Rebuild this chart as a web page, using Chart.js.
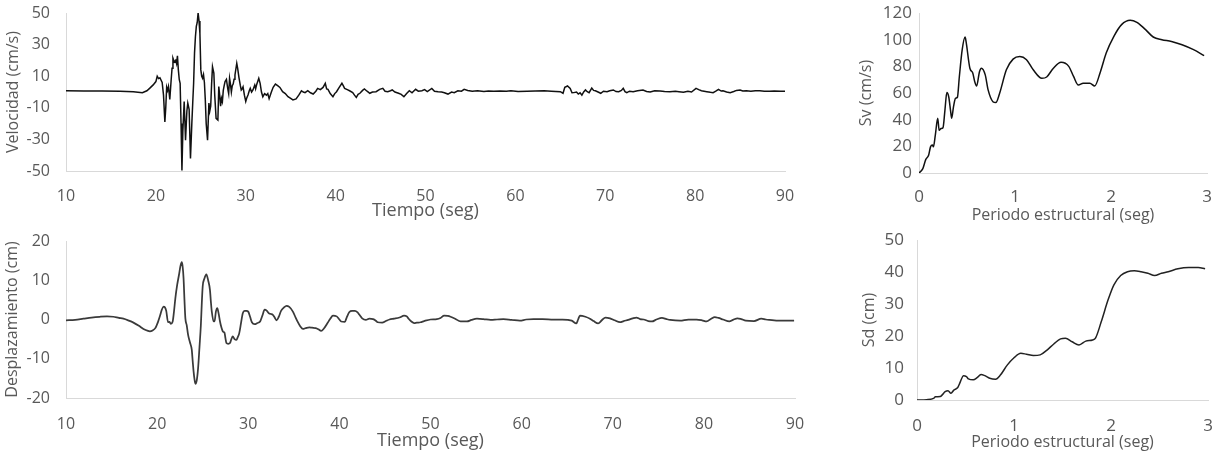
<!DOCTYPE html>
<html><head><meta charset="utf-8">
<script src="https://cdn.jsdelivr.net/npm/chart.js@4.4.1/dist/chart.umd.min.js"></script>
<style>
html,body{margin:0;padding:0;background:#fff;width:1215px;height:452px;overflow:hidden}
.box{position:absolute}
</style></head><body>
<div class="box" style="left:0;top:0;width:800px;height:225px"><canvas id="cVel"></canvas></div>
<div class="box" style="left:0;top:225px;width:810px;height:227px"><canvas id="cDis"></canvas></div>
<div class="box" style="left:850px;top:0;width:365px;height:225px"><canvas id="cSv"></canvas></div>
<div class="box" style="left:850px;top:225px;width:365px;height:227px"><canvas id="cSd"></canvas></div>
<script>
// ---- Velocity time history ----
const velT = [10,12,14,16,17.5,18.5,19.0,19.3,19.7,20.0,20.15,20.3,20.45,20.7,20.85,21.0,21.1,21.2,21.3,21.4,21.55,21.7,21.8,21.9,22.05,22.2,22.3,22.4,22.5,22.6,22.7,22.8,22.9,23.0,23.15,23.3,23.45,23.55,23.7,23.85,24.0,24.1,24.2,24.3,24.4,24.5,24.6,24.7,24.8,24.9,25.0,25.1,25.2,25.3,25.4,25.5,25.6,25.75,25.9,26.0,26.1,26.2,26.3,26.45,26.55,26.7,26.9,27.0,27.1,27.2,27.3,27.4,27.5,27.6,27.7,27.85,28.0,28.1,28.2,28.3,28.4,28.5,28.6,28.7,28.8,29.0,29.1,29.25,29.4,29.5,29.6,29.7,29.85,30.0,30.1,30.25,30.4,30.5,30.65,30.8,31.0,31.1,31.2,31.35,31.45,31.6,31.75,31.9,32.1,32.3,32.45,32.6,32.85,33.05,33.3,33.55,33.8,34.1,34.4,34.7,35.0,35.25,35.6,35.9,36.2,36.4,36.6,36.9,37.2,37.5,37.8,38.0,38.3,38.6,38.85,39.0,39.15,39.4,39.7,39.9,40.1,40.4,40.7,40.85,41.0,41.3,41.55,41.9,42.1,42.3,42.5,42.7,43.0,43.2,43.5,43.8,44.1,44.5,44.9,45.25,45.5,45.8,46.1,46.3,46.6,47.0,47.3,47.6,47.9,48.2,48.5,48.9,49.2,49.6,49.9,50.2,50.7,51.0,51.4,51.8,52.1,52.5,52.9,53.2,53.6,54.0,54.3,54.7,55.2,55.8,56.5,57.0,57.6,58.3,59.0,59.5,60.3,61.3,62.2,63.2,64.0,65.0,65.3,65.5,65.8,66.1,66.3,66.5,66.8,67.0,67.2,67.4,67.6,67.8,68.0,68.2,68.5,68.7,68.9,69.2,69.5,69.8,70.2,70.5,70.9,71.2,71.5,71.8,72.0,72.2,72.4,72.7,73.1,73.6,74.2,74.6,75.0,75.5,76.1,76.6,77.2,77.8,78.2,78.7,79.2,79.6,80.1,80.4,80.7,81.0,81.3,81.7,82.0,82.3,82.6,82.9,83.1,83.5,83.9,84.3,84.6,85.0,85.3,85.7,86.2,86.7,87.2,87.7,88.3,88.8,89.5,90];
const velV = [0.8,0.7,0.6,0.5,0.2,-0.4,0.8,2.3,4.5,6.6,10,8.5,9,6,-2,-18.9,-10,3,1,3.5,-4.7,7.6,15,21.4,19,20,18,22.9,14,8,5.5,-20,-49.6,-25,-6,-30.5,-12,-7,-11,-42,-20,-7,5.5,24.6,35,41.5,44,50,45,37,14,10,8.7,11,6,-5,-20,-30.5,-7,-12,-9,5,16,12,-2,-16.7,-17.8,3.4,-2,-9,-4,-6,1,4,6.6,8,2,-1,8.7,5,0,4,5,8,10.8,18.2,15,9,4,1.3,2,3.3,-2,-6,-4,-1.9,1,2.3,0,1.3,4.4,2,4.4,7,8.7,5.5,0,-3,-1,-2,-1,-4.2,0,3,5,4,2.9,0.2,-1,-3,-4,-5,-4.4,-2,0.8,0,-0.4,0.8,-0.5,-1.3,0.5,2.3,1.5,2.9,5.5,2,1.7,-1,-3,-1,0.2,2.9,5.5,4,2.3,1.5,0.8,-0.4,-2,-3.4,-1.5,-0.8,1,1.9,0.5,-0.8,0,0.2,1.7,2.3,0.5,0.2,0.8,1.3,0,-0.8,-1.5,-3,-1,0.8,-0.5,1.7,0.5,0.8,1.5,0.3,2.3,0.5,0.2,0,-0.5,-1.3,0,-0.4,0.8,0.5,1.7,1,0.5,0.8,0.3,0.6,0.4,0.6,0.5,0.8,0.3,0.4,0.6,0.8,0.5,0.2,-0.8,3,3.8,2.3,-0.5,-0.4,0,-1.3,-0.5,-2,0,1.3,0.2,-0.4,2.5,1,0.8,0,-0.8,0.5,0.2,0.8,1.3,0.3,0.2,1,2.3,0.2,-0.4,0.5,0.2,0.8,1.3,0.3,0,0.8,0.6,0.3,0.2,0.5,0.2,-0.2,0.5,0,2.3,1.5,0.8,0.5,0.2,-0.2,-0.4,0.5,1.7,0.6,0.8,0,-0.4,0.3,1,1.3,0.6,0.8,0.5,0.8,0.8,0.5,0.4,0.6,0.4,0.4];
const velXTicks = [10,20,30,40,50,60,70,80,90];
const velYTicks = [-50,-30,-10,10,30,50];

// ---- Displacement time history ----
const disT = [10,11,11.9,12.8,13.7,14.5,15.2,15.8,16.3,16.9,17.4,18.0,18.5,19.0,19.2,19.5,19.8,20.1,20.3,20.5,20.7,20.85,21.0,21.2,21.35,21.5,21.7,21.85,22.0,22.2,22.4,22.55,22.7,22.8,22.9,23.0,23.1,23.25,23.4,23.6,23.8,23.9,24.0,24.1,24.2,24.35,24.5,24.65,24.8,24.9,25.0,25.2,25.4,25.6,25.8,25.9,26.0,26.2,26.3,26.45,26.6,26.75,26.9,27.05,27.2,27.3,27.4,27.5,27.6,27.8,28.0,28.15,28.3,28.5,28.7,28.85,29.0,29.2,29.4,29.6,29.8,30.0,30.2,30.4,30.7,31.0,31.3,31.55,31.8,32.05,32.3,32.5,32.7,32.9,33.1,33.35,33.6,33.9,34.2,34.5,34.9,35.2,35.4,35.7,36.0,36.3,36.7,37.0,37.4,37.7,38.0,38.3,38.7,39.0,39.3,39.7,40.0,40.2,40.6,40.8,41.1,41.4,41.7,42.0,42.2,42.5,42.9,43.3,43.7,44.0,44.2,44.7,45.1,45.5,46.0,46.6,47.1,47.4,47.6,47.9,48.2,48.5,48.9,49.3,50.0,50.7,51.1,51.5,51.9,52.2,52.7,53.3,54.0,54.5,55.1,55.8,56.6,57.3,58.0,58.9,59.8,60.5,61.3,62.3,63.5,64.5,65.5,66.0,66.2,66.4,67.0,67.5,67.9,68.4,68.8,69.2,69.7,70.2,70.8,71.2,71.7,72.2,72.6,73.0,73.4,73.9,74.3,74.8,75.4,75.9,76.3,77.4,78.3,79.2,79.8,80.3,80.8,81.2,81.6,82.1,82.8,83.2,83.7,84.1,84.6,85.5,86.3,86.8,87.2,88.3,89.0,89.9];
const disD = [-0.2,-0.1,0.2,0.5,0.7,0.8,0.7,0.4,0.2,-0.3,-0.8,-1.6,-2.4,-2.9,-3,-2.8,-2.2,-0.6,0.8,2.4,3.3,3.1,2.2,-0.7,-0.6,-1.1,-0.6,2,5.4,8.8,11.4,13.5,14.6,13.5,10.5,5,0.3,-1.5,-3.9,-5.8,-7.7,-10.5,-13.2,-15.2,-16.4,-15.5,-12.3,-7,-1.4,4,8.4,10.5,11.5,10,7.5,4.5,2,-0.5,-0.5,2,2.9,1.5,-0.5,-2,-3,-3.2,-3.4,-4.8,-6,-6.2,-6,-5,-4.3,-5,-5.2,-4.5,-3.6,-1,1.6,2.2,2.2,2,0.7,-0.7,-1.2,-0.9,-0.5,1,2.5,2.2,1.5,1.4,1.2,0.5,-0.2,0.7,2.2,3,3.5,3.2,2,0.5,-0.5,-1.7,-2.4,-2.2,-2,-2.1,-2.2,-2.5,-2.9,-2.3,-0.9,0.2,1,0.8,0,-0.5,-0.6,0.5,1.9,2.2,2.2,1.8,1.2,0.3,-0.1,0.2,0.1,-0.3,-0.7,-0.8,-0.4,0,0.2,0.5,1,0.8,0.2,-0.5,-0.9,-0.8,-0.7,-0.4,0,0.1,0.4,1,0.9,0.7,0.2,-0.5,-0.5,-0.1,0.2,0.1,-0.1,0,0.1,-0.1,-0.3,0,0.1,0.1,0,0,-0.3,-1,0,1,0.7,0.2,-0.4,-1,-0.2,0.5,0.3,-0.2,-0.7,-0.4,-0.1,0.3,0.5,0.1,0,-0.4,-0.5,0,0.4,0.1,-0.1,-0.3,0,0,-0.2,-0.5,0.2,0.6,0.4,0,-0.5,-0.1,0.3,0.1,-0.3,-0.4,0.2,0,-0.1,-0.3,-0.3,-0.3];
const disXTicks = [10,20,30,40,50,60,70,80,90];
const disYTicks = [-20,-10,0,10,20];

// ---- Velocity spectrum Sv ----
const svT = [0,0.04,0.07,0.1,0.12,0.14,0.15,0.17,0.195,0.21,0.23,0.25,0.27,0.29,0.31,0.33,0.34,0.36,0.38,0.40,0.42,0.45,0.48,0.49,0.53,0.56,0.58,0.60,0.63,0.65,0.69,0.72,0.77,0.80,0.84,0.91,0.98,1.05,1.12,1.19,1.28,1.33,1.40,1.48,1.56,1.61,1.66,1.71,1.78,1.83,1.89,1.95,2.03,2.11,2.2,2.27,2.36,2.44,2.53,2.63,2.74,2.86,2.97];
const svV = [0,3.3,10,13.3,19.6,21,19.6,28.4,41,32,33.4,34,47,60.3,57,46,41,50,56,56.8,72,92.5,102,98.7,78.6,75,68.6,65.3,76,78.6,73.6,62.3,53.5,52.8,59.8,77.4,85.4,87.4,85,77.4,71,72,78.6,83,80,72.4,66,67.3,67.3,65.3,76,90,102.5,111.3,114.6,113,107.5,102,100,98.7,96.2,92.5,88];
const svXTicks = [0,1,2,3];
const svYTicks = [0,20,40,60,80,100,120];

// ---- Displacement spectrum Sd ----
const sdT = [0,0.1,0.17,0.19,0.24,0.26,0.29,0.32,0.35,0.38,0.42,0.44,0.48,0.51,0.53,0.58,0.62,0.66,0.70,0.75,0.81,0.86,0.93,1.0,1.07,1.13,1.20,1.27,1.34,1.41,1.48,1.53,1.60,1.67,1.74,1.81,1.84,1.90,1.97,2.03,2.10,2.17,2.24,2.31,2.38,2.45,2.52,2.59,2.69,2.80,2.90,2.97];
const sdV = [0,0.1,0.5,1,1.1,1.6,2.6,2.9,2.1,3.1,3.9,5.2,7.6,7.3,6.6,6.3,7,8,7.6,6.8,6.5,7.8,10.9,13.2,14.6,14.3,13.9,14.1,15.6,17.5,19.1,19.3,18.2,17.2,18.4,18.75,19.3,24.5,31.3,36,38.9,40.1,40.4,40.1,39.6,38.9,39.6,40.1,41,41.4,41.4,41];
const sdXTicks = [0,1,2,3];
const sdYTicks = [0,10,20,30,40,50];

const FONT = "'Open Sans', 'Liberation Sans', sans-serif";
const TXT = '#595959';
const AXIS = '#d9d9d9';

function panel(id, o) {
  new Chart(document.getElementById(id), {
    type: 'scatter',
    data: { datasets: [{
      data: o.xs.map((x, i) => ({ x: x, y: o.ys[i] })),
      showLine: true, borderColor: o.color, borderWidth: o.width,
      pointRadius: 0, pointHoverRadius: 0, fill: false,
      cubicInterpolationMode: o.smooth ? 'monotone' : 'default', tension: 0
    }]},
    options: {
      responsive: true, maintainAspectRatio: false, animation: false,
      layout: { padding: o.pad },
      plugins: { legend: { display: false }, tooltip: { enabled: false } },
      scales: {
        x: {
          type: 'linear', min: o.xTicks[0], max: o.xTicks[o.xTicks.length - 1],
          afterBuildTicks: s => { s.ticks = o.xTicks.map(v => ({ value: v })); },
          afterFit: s => { s.height = o.xAxisH; s.paddingLeft = 0; s.paddingRight = 0; },
          grid: { display: false, drawTicks: false },
          border: { display: true, color: AXIS, width: 1 },
          ticks: { padding: o.xTickPad, color: TXT, font: { family: FONT, size: o.tickSize }, maxRotation: 0, autoSkip: false },
          title: { display: true, text: o.xTitle, color: TXT, font: { family: FONT, size: o.xTitleSize }, padding: { top: 0, bottom: o.xTitlePadB } }
        },
        y: {
          type: 'linear', min: o.yTicks[0], max: o.yTicks[o.yTicks.length - 1],
          afterBuildTicks: s => { s.ticks = o.yTicks.map(v => ({ value: v })); },
          afterFit: s => { s.width = o.yAxisW; s.paddingTop = 0; s.paddingBottom = 0; },
          grid: { display: false, drawTicks: false },
          border: { display: true, color: AXIS, width: 1 },
          ticks: { padding: o.yTickPad, color: TXT, font: { family: FONT, size: o.tickSize } },
          title: { display: true, text: o.yTitle, color: TXT, font: { family: FONT, size: 16 }, padding: { top: o.yTitlePadT, bottom: 0 } }
        }
      }
    }
  });
}

panel('cVel', { xs: velT, ys: velV, xTicks: velXTicks, yTicks: velYTicks,
  xTitle: 'Tiempo (seg)', yTitle: 'Velocidad (cm/s)', color: '#111', width: 1.5, smooth: false,
  pad: { left: 0, right: 15, top: 13, bottom: 0 }, yAxisW: 66, xAxisH: 54,
  xTickPad: 16, yTickPad: 16, tickSize: 16, xTitleSize: 18, xTitlePadB: 3, yTitlePadT: 4 });

panel('cDis', { xs: disT, ys: disD, xTicks: disXTicks, yTicks: disYTicks,
  xTitle: 'Tiempo (seg)', yTitle: 'Desplazamiento (cm)', color: '#3a3a3a', width: 1.75, smooth: true,
  pad: { left: 0, right: 15, top: 16, bottom: 0 }, yAxisW: 66, xAxisH: 54,
  xTickPad: 17, yTickPad: 16, tickSize: 16, xTitleSize: 18, xTitlePadB: 0, yTitlePadT: 3 });

panel('cSv', { xs: svT, ys: svV, xTicks: svXTicks, yTicks: svYTicks,
  xTitle: 'Periodo estructural (seg)', yTitle: 'Sv (cm/s)', color: '#111', width: 1.5, smooth: true,
  pad: { left: 0, right: 8, top: 13, bottom: 0 }, yAxisW: 69, xAxisH: 52,
  xTickPad: 14, yTickPad: 7, tickSize: 17, xTitleSize: 16, xTitlePadB: 0, yTitlePadT: 7 });

panel('cSd', { xs: sdT, ys: sdV, xTicks: sdXTicks, yTicks: sdYTicks,
  xTitle: 'Periodo estructural (seg)', yTitle: 'Sd (cm)', color: '#222', width: 1.5, smooth: true,
  pad: { left: 0, right: 7, top: 15, bottom: 0 }, yAxisW: 67, xAxisH: 52,
  xTickPad: 16, yTickPad: 13, tickSize: 17, xTitleSize: 16, xTitlePadB: 0, yTitlePadT: 10 });
</script>
</body></html>
